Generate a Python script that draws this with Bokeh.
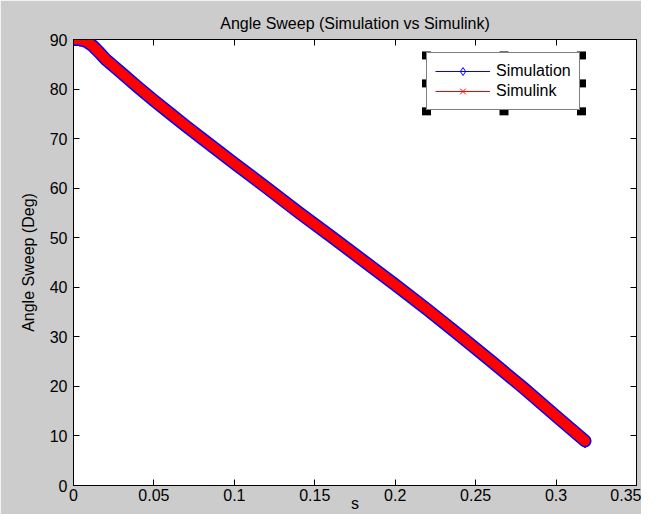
from bokeh.plotting import figure
from bokeh.models import FixedTicker, LinearAxis, Legend, LegendItem, Range1d
from bokeh.embed import file_html
from bokeh.resources import INLINE

# ---- data ----
time_s = [0, 0.004, 0.008, 0.012, 0.016, 0.02, 0.03, 0.04, 0.05, 0.06, 0.07, 0.08,
          0.10, 0.12, 0.14, 0.16, 0.18, 0.20, 0.22, 0.24, 0.26, 0.28, 0.30, 0.318]
simulation_deg = [90.0, 90.0, 89.6, 88.7, 87.4, 86.0, 83.2, 80.4, 77.7, 75.1, 72.5, 70.0,
                  65.0, 60.1, 55.1, 50.3, 45.4, 40.5, 35.5, 30.3, 25.0, 19.6, 14.0, 9.0]
simulink_deg = [90.0, 90.0, 89.6, 88.7, 87.4, 86.0, 83.2, 80.4, 77.7, 75.1, 72.5, 70.0,
                65.0, 60.1, 55.1, 50.3, 45.4, 40.5, 35.5, 30.3, 25.0, 19.6, 14.0, 9.0]
x_ticks = [0, 0.05, 0.1, 0.15, 0.2, 0.25, 0.3, 0.35]
x_tick_labels = ["0", "0.05", "0.1", "0.15", "0.2", "0.25", "0.3", "0.35"]
y_ticks = [0, 10, 20, 30, 40, 50, 60, 70, 80, 90]
y_tick_labels = ["0", "10", "20", "30", "40", "50", "60", "70", "80", "90"]
x_label = "s"
y_label = "Angle Sweep (Deg)"

FONT = "Liberation Sans"
BG = "#cccccc"
X_MAX, Y_MAX = 0.35, 90
FRAME_W, FRAME_H = 563, 447

p = figure(width=641, height=514,
           x_range=Range1d(0, X_MAX), y_range=Range1d(0, Y_MAX),
           output_backend="svg", toolbar_location=None,
           min_border_left=73, min_border_right=5, min_border_top=39, min_border_bottom=28,
           background_fill_color="white", border_fill_color=BG,
           outline_line_color="black", outline_line_width=1,
           title="Angle Sweep (Simulation vs Simulink)")
p.grid.visible = False

p.title.align = "center"
p.title.text_font = FONT
p.title.text_font_size = "16px"
p.title.text_font_style = "normal"
p.title.text_color = "black"
p.title.standoff = 16


def style_axis(ax, labels=True):
    ax.axis_line_color = "black"
    ax.axis_line_width = 1
    ax.major_tick_in = 6
    ax.major_tick_out = 0
    ax.major_tick_line_color = "black"
    ax.minor_tick_line_color = None
    ax.major_label_text_font = FONT
    ax.major_label_text_color = "black"
    ax.axis_label_text_font = FONT
    ax.axis_label_text_font_size = "16px"
    ax.axis_label_text_font_style = "normal"
    ax.axis_label_text_color = "black"
    if labels:
        ax.major_label_text_font_size = "16px"
    else:
        ax.major_label_text_font_size = "1px"
        ax.major_label_standoff = 0


xa = p.xaxis[0]
xa.ticker = FixedTicker(ticks=x_ticks)
xa.major_label_overrides = dict(zip(x_ticks, x_tick_labels))
xa.axis_label = x_label
style_axis(xa)
xa.major_label_standoff = 3
xa.axis_label_standoff = -9

ya = p.yaxis[0]
ya.ticker = FixedTicker(ticks=y_ticks)
ya.major_label_overrides = dict(zip(y_ticks, y_tick_labels))
ya.axis_label = y_label
style_axis(ya)
ya.major_label_standoff = 6
ya.axis_label_standoff = 10

ra = LinearAxis(ticker=FixedTicker(ticks=y_ticks))
ra.major_label_overrides = {t: "" for t in y_ticks}
style_axis(ra, labels=False)
p.add_layout(ra, "right")
ta = LinearAxis(ticker=FixedTicker(ticks=x_ticks))
ta.major_label_overrides = {t: "" for t in x_ticks}
style_axis(ta, labels=False)
p.add_layout(ta, "above")

# ---- thin lines + markers (also used as legend glyphs), covered by the dense bands ----
l1 = p.line(time_s, simulation_deg, line_color="#0000ff", line_width=1.2)
m1 = p.scatter(time_s, simulation_deg, marker="diamond", size=14, line_color="#0000ff",
               fill_color=None, line_width=1)
l2 = p.line(time_s, simulink_deg, line_color="#ff0000", line_width=1.2)
m2 = p.scatter(time_s, simulink_deg, marker="x", size=7, line_color="#ff0000", line_width=1)

p.line(time_s, simulation_deg, line_color="#0000ff", line_width=13,
       line_cap="round", line_join="round")
p.line(time_s, simulink_deg, line_color="#ff0000", line_width=10,
       line_cap="round", line_join="round")

# ---- legend ----
LEG_X, LEG_Y, PAD = 353, 375, 8
legend = Legend(items=[LegendItem(label="Simulation", renderers=[l1, m1]),
                       LegendItem(label="Simulink", renderers=[l2, m2])],
                location=(LEG_X, LEG_Y), orientation="vertical",
                padding=PAD, spacing=0, margin=0,
                glyph_width=55, glyph_height=20, label_height=20, label_standoff=6,
                label_text_font=FONT, label_text_font_size="16px", label_text_color="black",
                border_line_color="black", border_line_width=1,
                background_fill_color="white", background_fill_alpha=1)
p.add_layout(legend)

# selection handles around the legend (frame pixel -> data)
LEG_W, LEG_H = 155, 56
hx_px = [LEG_X, LEG_X + LEG_W / 2, LEG_X + LEG_W]
hy_px = [LEG_Y, LEG_Y + LEG_H / 2, LEG_Y + LEG_H]
hxs, hys = [], []
for i, hx in enumerate(hx_px):
    for j, hy in enumerate(hy_px):
        if i == 1 and j == 1:
            continue
        hxs.append(hx * X_MAX / FRAME_W)
        hys.append(hy * Y_MAX / FRAME_H)
p.rect(x=hxs, y=hys, width=9, height=8, width_units="screen", height_units="screen",
       fill_color="black", line_color=None, level="overlay")

open("out.html", "w").write(file_html(p, INLINE))
